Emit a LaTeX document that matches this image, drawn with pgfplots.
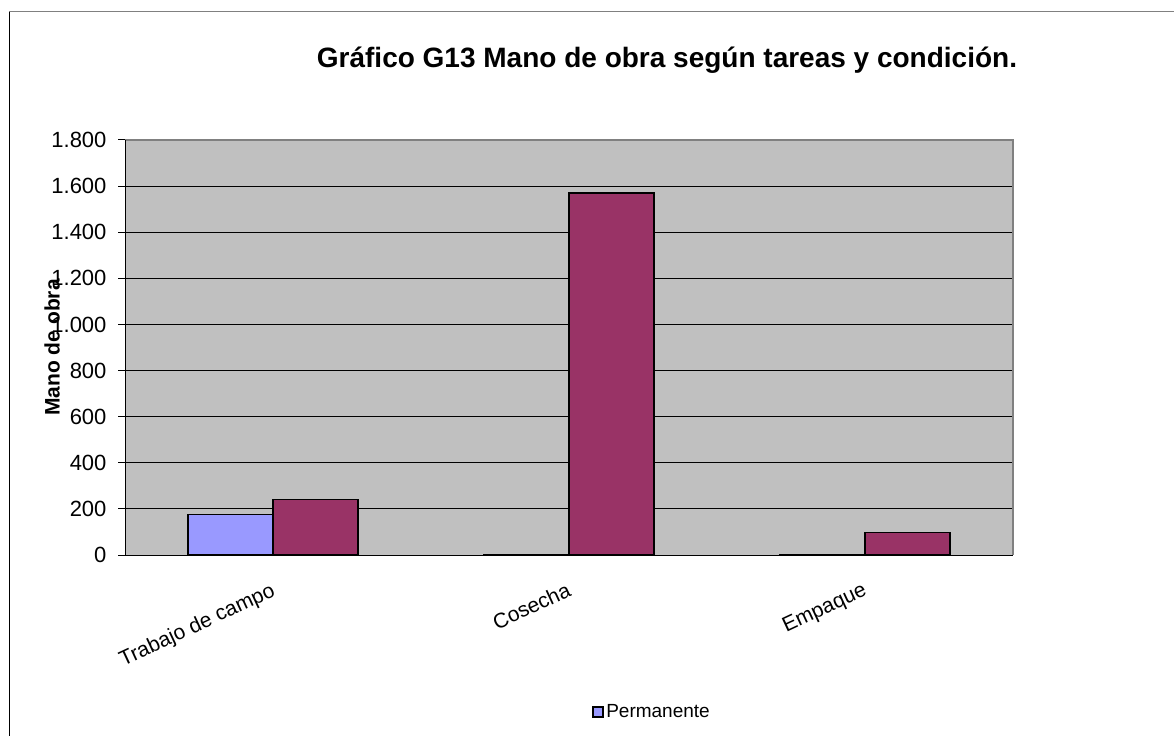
\documentclass[border=0pt]{standalone}
\usepackage{pgfplots}
\pgfplotsset{compat=1.18}
\usepackage{fontspec}
\setmainfont{Liberation Sans}
\definecolor{perm}{HTML}{9999FF}
\definecolor{temp}{HTML}{993366}
\definecolor{plotbg}{HTML}{C0C0C0}
\definecolor{framegray}{HTML}{808080}
\begin{document}
\begin{tikzpicture}[x=1pt,y=1pt]
\useasboundingbox (0,0) rectangle (1174,736);
\draw[framegray, line width=1pt] (9,724) -- (1174,724);
\draw[black, line width=1pt] (9,724) -- (9,0);
\node[font=\fontsize{28}{32}\selectfont\bfseries] at (667,676) {Gráfico G13 Mano de obra según tareas y condición.};
\begin{axis}[
  at={(125pt,181pt)}, anchor=south west,
  scale only axis, width=888pt, height=415pt,
  xmin=-0.5, xmax=2.5, ymin=0, ymax=1800,
  axis background/.style={fill=plotbg},
  axis line style={draw=none},
  ytick={0,200,...,1800},
  scaled y ticks=false,
  /pgf/number format/1000 sep={.},
  /pgf/number format/assume math mode=true,
  ymajorgrids, grid style={black, line width=1pt},
  axis on top=false,
  tick align=outside,
  major tick length=7pt,
  minor tick length=7pt,
  xtick pos=lower, ytick pos=left,
  tick style={black, line width=1pt},
  xtick={0,1,2},
  xticklabels={Trabajo de campo, Cosecha, Empaque},
  x tick style={draw=none},
  minor xtick={-0.5,0.5,1.5,2.5},
  minor x tick style={black, line width=1pt},
  xticklabel style={rotate=25, anchor=north east, inner sep=1pt, xshift=-10pt, yshift=-15pt, font=\fontsize{21}{25}\selectfont},
  yticklabel style={font=\fontsize{22}{26}\selectfont, xshift=-8pt},
  every axis y label/.style={at={(axis description cs:-0.0822,0.5)}, rotate=90, anchor=center, font=\fontsize{21}{25}\selectfont\bfseries},
  ylabel={Mano de obra},
  ybar=0pt, bar width=85pt,
  legend style={at={(axis description cs:0.5935,-0.378)}, anchor=center, draw=none, fill=none, font=\fontsize{19}{23}\selectfont, legend cell align=left},
  legend image code/.code={\draw[#1, draw=black, line width=2pt] (0pt,-5pt) rectangle (10pt,5pt);},
  clip=false,
]
\addplot[fill=perm, draw=black, line width=1.6pt, bar shift=-42.5pt] coordinates {(0,175) (1,3) (2,3)};
\addlegendentry{Permanente}
\addplot[fill=temp, draw=black, line width=1.6pt, bar shift=42.5pt] coordinates {(0,240) (1,1570) (2,97)};
\draw[framegray, line width=2pt] (rel axis cs:0,1) -- (rel axis cs:1,1) -- (rel axis cs:1,0);
\draw[black, line width=1pt] (rel axis cs:0,1) -- (rel axis cs:0,0) -- (rel axis cs:1,0);
\end{axis}
\end{tikzpicture}
\end{document}
